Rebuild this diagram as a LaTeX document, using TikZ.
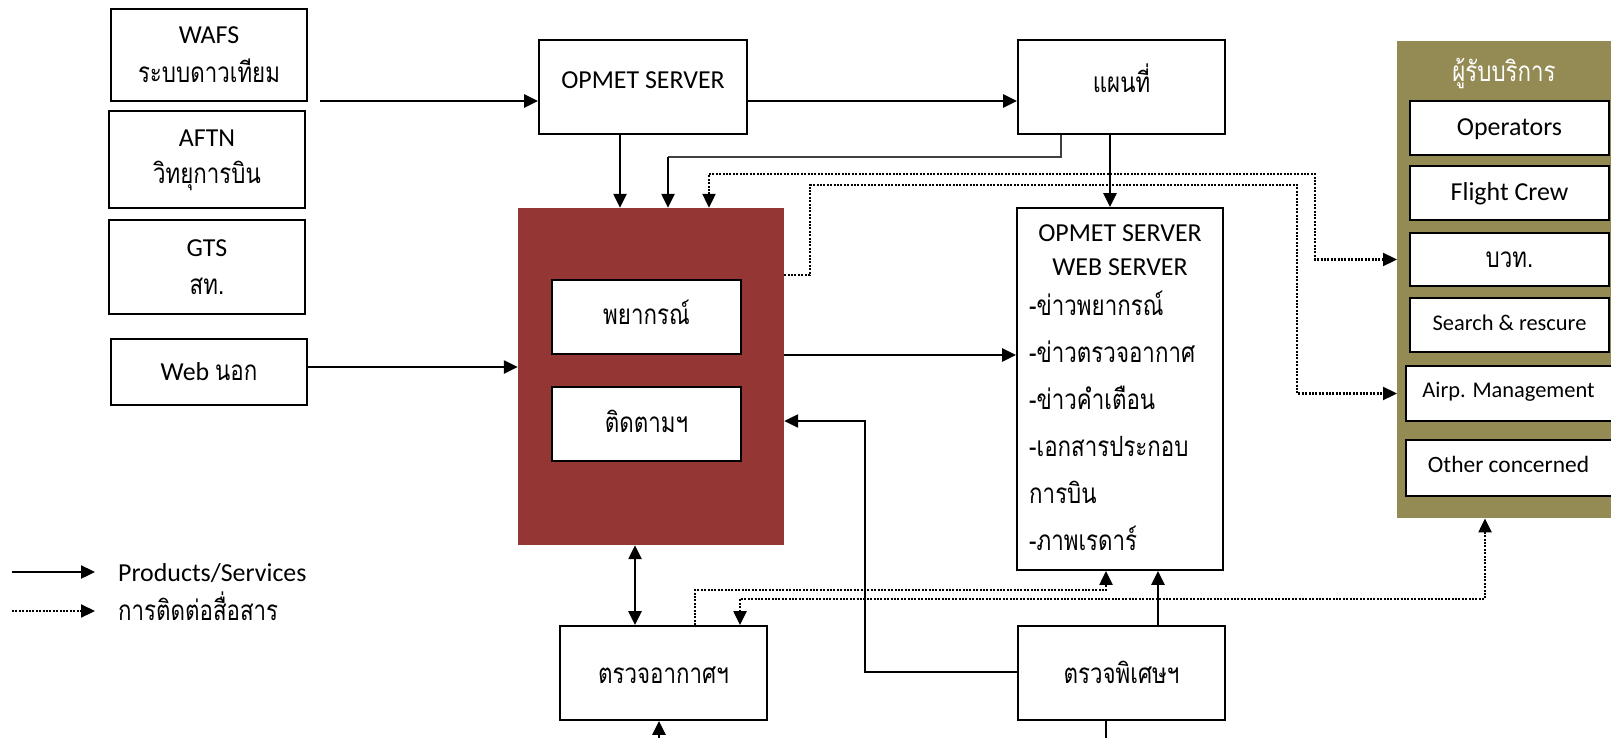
\documentclass[tikz,border=0pt]{standalone}
\usepackage{fontspec}
\setmainfont{Carlito}
\newfontfamily\thaifont[Script=Thai,FakeStretch=0.8]{Loma}
\usetikzlibrary{arrows.meta}
\definecolor{redbox}{HTML}{943634}
\definecolor{tanbox}{HTML}{948A54}
\newcommand\latf{\fontsize{26}{30}\selectfont}
\newcommand\latsm{\fontsize{22.5}{26}\selectfont}
\newcommand\thf{\thaifont\fontsize{28}{30}\selectfont}
\tikzset{
  x=1bp, y=-1bp,
  box/.style={draw=black, line width=1.8bp, fill=white, inner sep=0pt},
  txt/.style={inner sep=0pt, anchor=base},
  arr/.style={line width=2.4bp, -{Triangle[length=14bp,width=13bp]}},
  darr/.style={line width=2.4bp, {Triangle[length=14bp,width=13bp]}-{Triangle[length=14bp,width=13bp]}},
  dots/.style={line width=2.2bp, dash pattern=on 2bp off 1.4bp},
  thinl/.style={line width=1.3bp, draw=black!75},
}
\begin{document}
\begin{tikzpicture}
\useasboundingbox (0,0) rectangle (1611,738);
% left sources
\node[box, minimum width=196bp, minimum height=92bp] (wafs) at (209,55) {};
\node[txt] (wafs1) at (209,44) {\latf WAFS};
\node[txt] (wafs2) at (209,82) {\thf ระบบดาวเทียม};
\node[box, minimum width=196bp, minimum height=97bp] (aftn) at (207,159.5) {};
\node[txt] (aftn1) at (207,146) {\latf AFTN};
\node[txt] (aftn2) at (207,183) {\thf วิทยุการบิน};
\node[box, minimum width=196bp, minimum height=94bp] (gts) at (207,267) {};
\node[txt] (gts1) at (207,256) {\latf GTS};
\node[txt] (gts2) at (207,294) {\thf สท.};
\node[box, minimum width=196bp, minimum height=66bp] (web) at (209,372) {};
\node[txt] (web1) at (209,380) {\latf Web {\thf นอก}};
% top servers
\node[box, minimum width=208bp, minimum height=94bp] (opmet) at (643,87) {};
\node[txt] (opmet1) at (643,88) {\latf OPMET SERVER};
\node[box, minimum width=207bp, minimum height=94bp] (map) at (1121.5,87) {};
\node[txt] (map1) at (1121.5,92) {\thf แผนที่};
% red block
\node[fill=redbox, inner sep=0pt, minimum width=266bp, minimum height=337bp] (red) at (651,376.5) {};
\node[box, minimum width=189bp, minimum height=74bp] (fc) at (646.5,317) {};
\node[txt] (fc1) at (646.5,324) {\thf พยากรณ์};
\node[box, minimum width=189bp, minimum height=74bp] (mon) at (646.5,424) {};
\node[txt] (mon1) at (646.5,432) {\thf ติดตามฯ};
% web server
\node[box, minimum width=206bp, minimum height=362bp] (srv) at (1120,389) {};
\node[txt] (srv1) at (1120,241) {\latf OPMET SERVER};
\node[txt] (srv2) at (1120,275) {\latf WEB SERVER};
\node[inner sep=0pt, anchor=north west, align=left, font={\thf\baselineskip=47bp}] (srvl) at (1029,291)
  {-ข่าวพยากรณ์\\-ข่าวตรวจอากาศ\\-ข่าวคำเตือน\\-เอกสารประกอบ\\การบิน\\-ภาพเรดาร์};
% customers panel
\node[fill=tanbox, inner sep=0pt, minimum width=220bp, minimum height=477bp, anchor=north west] (panel) at (1397,41) {};
\node[txt, text=white] (panelt) at (1504,81) {\thf ผู้รับบริการ};
\node[box, minimum width=199bp, minimum height=54bp] (ops) at (1509.5,128) {};
\node[txt] (ops1) at (1509.5,135) {\latf Operators};
\node[box, minimum width=199bp, minimum height=54bp] (crew) at (1509.5,193) {};
\node[txt] (crew1) at (1509.5,200) {\latf Flight Crew};
\node[box, minimum width=199bp, minimum height=53bp] (aero) at (1509.5,259.5) {};
\node[txt] (aero1) at (1509.5,267) {\thf บวท.};
\node[box, minimum width=199bp, minimum height=54bp] (sar) at (1509.5,325) {};
\node[txt] (sar1) at (1509.5,330) {\latsm Search \& rescure};
\node[box, minimum width=209bp, minimum height=55bp] (airp) at (1510.5,393.5) {};
\node[txt] (airp1) at (1508.5,397) {\latsm Airp. Management};
\node[box, minimum width=209bp, minimum height=56bp] (other) at (1510.5,468) {};
\node[txt] (other1) at (1508.5,472) {\fontsize{23.5}{27}\selectfont Other concerned};
% bottom
\node[box, minimum width=207bp, minimum height=94bp] (obs) at (663.5,673) {};
\node[txt] (obs1) at (663.5,683) {\thf ตรวจอากาศฯ};
\node[box, minimum width=207bp, minimum height=94bp] (spec) at (1121.5,673) {};
\node[txt] (spec1) at (1121.5,683) {\thf ตรวจพิเศษฯ};
% legend
\coordinate (l1a) at (12,572); \coordinate (l1b) at (95,572);
\coordinate (l2a) at (12,611); \coordinate (l2b) at (95,611);
\draw[arr] (l1a) -- (l1b);
\draw[arr, dots] (l2a) -- (l2b);
\node[txt, anchor=base west] (leg1) at (118,581) {\latf Products/Services};
\node[txt, anchor=base west] (leg2) at (118,620) {\thf การติดต่อสื่อสาร};
% connectors
\coordinate (win) at (320,101);
\draw[arr] (win) -- (opmet.west |- win);
\draw[arr] (opmet.east |- 0,101) -- (map.west |- 0,101);
\draw[arr] (620,0 |- opmet.south) -- (620,0 |- red.north);
\draw[thinl] (1061,0 |- map.south) -- (1061,157) -- (668,157);
\draw[arr] (668,157) -- (668,0 |- red.north);
\draw[arr] (1110,0 |- map.south) -- (1110,0 |- srv.north);
\draw[darr, dots] (709,0 |- red.north) -- (709,174) -- (1315,174) -- (1315,0 |- aero) -- (panel.west |- aero);
\draw[arr, dots] (red.east |- 0,275) -- (810,275) -- (810,185) -- (1297,185) -- (1297,0 |- airp) -- (panel.west |- airp);
\draw[arr] (web.east |- 0,367) -- (red.west |- 0,367);
\draw[arr] (red.east |- 0,355) -- (srv.west |- 0,355);
\draw[arr] (spec.west |- 0,672) -- (865,672) -- (865,421) -- (red.east |- 0,421);
\draw[darr] (635,0 |- red.south) -- (635,0 |- obs.north);
\draw[arr, dots] (695,0 |- obs.north) -- (695,590) -- (1106,590) -- (1106,0 |- srv.south);
\draw[darr, dots] (740,0 |- obs.north) -- (740,599) -- (1485,599) -- (1485,0 |- panel.south);
\draw[arr] (1158,0 |- spec.north) -- (1158,0 |- srv.south);
\coordinate (bin) at (659,742);
\draw[arr] (bin) -- (659,0 |- obs.south);
\coordinate (bout) at (1106,742);
\draw[line width=2.4bp] (1106,0 |- spec.south) -- (bout);
\end{tikzpicture}
\end{document}
